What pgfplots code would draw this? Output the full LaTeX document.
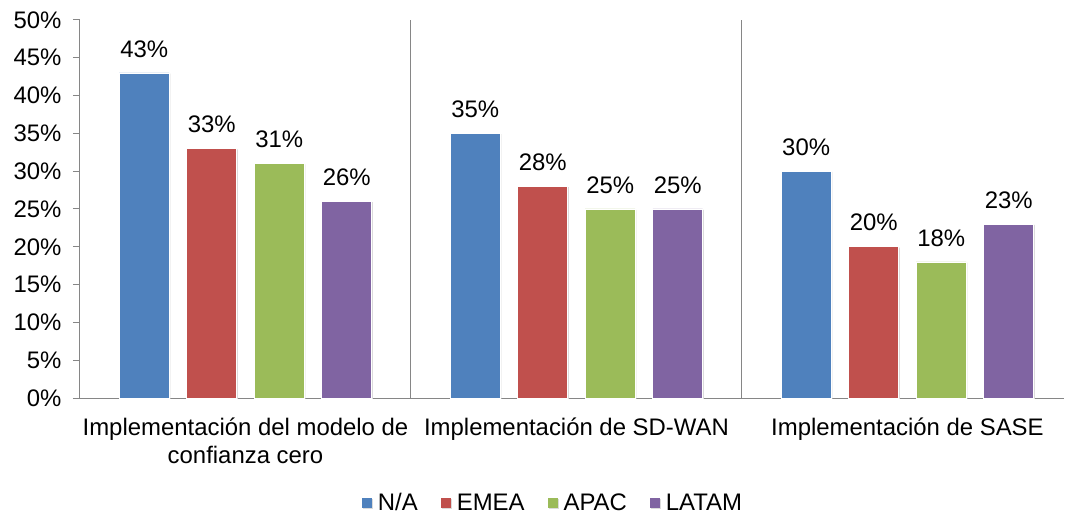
\documentclass[border=0pt]{standalone}
\usepackage{pgfplots}
\pgfplotsset{compat=1.18}
\usepackage{fontspec}
\setmainfont{Liberation Sans}
\definecolor{cA}{RGB}{79,129,189}
\definecolor{cB}{RGB}{192,80,77}
\definecolor{cC}{RGB}{155,187,89}
\definecolor{cD}{RGB}{128,100,162}
\definecolor{axgray}{RGB}{134,134,134}
\newcommand{\f}{\fontsize{24}{28}\selectfont}
\pgfplotsset{
  sq legend/.style={legend image code/.code={\fill[##1,draw=none] (0bp,-5bp) rectangle (10bp,5bp);}},
  barstyle/.style={draw=white, line width=0.6bp,
    preaction={fill=black!14, draw=none, transform canvas={xshift=1.2bp,yshift=-0.8bp}},
    sq legend},
}
\begin{document}
\begin{tikzpicture}
\begin{axis}[
  width=984bp, height=378bp, scale only axis,
  ybar, bar width=0.151,
  xmin=-0.5, xmax=2.473, ymin=0, ymax=50,
  axis x line=bottom, axis y line=left,
  axis line style={draw=axgray, line width=1bp, -},
  tick align=outside,
  major tick length=7bp,
  tick style={draw=axgray, line width=1bp},
  xtick={0,1,2},
  xticklabels={{Implementación del modelo de\\confianza cero},{Implementación de SD-WAN},{Implementación de SASE}},
  x tick style={draw=none},
  xticklabel style={font=\f, align=center, yshift=-9bp},
  extra x ticks={-0.5,0.5,1.5},
  extra x tick labels={},
  extra x tick style={grid=major, major grid style={draw=axgray, line width=1bp}, tick style={draw=axgray, line width=1bp}, major tick length=9bp},
  ytick={0,5,...,50},
  yticklabels={0\%,5\%,10\%,15\%,20\%,25\%,30\%,35\%,40\%,45\%,50\%},
  yticklabel style={font=\f, xshift=-8bp},
  /pgf/number format/assume math mode=true,
  nodes near coords={\pgfmathprintnumber{\pgfplotspointmeta}\%},
  every node near coord/.append style={font=\f, text=black, anchor=south, yshift=12bp},
  legend columns=4,
  legend style={at={(0.4807,-0.2778)}, anchor=center, draw=none, fill=none, font=\f,
    inner sep=0pt,
    /tikz/every odd column/.append style={column sep=4bp},
    /tikz/every even column/.append style={column sep=21bp}},
  clip=false,
]
\addplot[barstyle, fill=cA, bar shift=-0.306] coordinates {(0,43) (1,35) (2,30)};
\addlegendentry{N/A}
\addplot[barstyle, fill=cB, bar shift=-0.102] coordinates {(0,33) (1,28) (2,20)};
\addlegendentry{EMEA}
\addplot[barstyle, fill=cC, bar shift=0.102] coordinates {(0,31) (1,25) (2,18)};
\addlegendentry{APAC}
\addplot[barstyle, fill=cD, bar shift=0.306] coordinates {(0,26) (1,25) (2,23)};
\addlegendentry{LATAM}
\coordinate (sw) at (rel axis cs:0,0);
\coordinate (ne) at (rel axis cs:1,1);
\end{axis}
\pgfresetboundingbox
\path[use as bounding box] ([xshift=-80bp,yshift=-123bp]sw) rectangle ([xshift=1bp,yshift=20bp]ne);
\end{tikzpicture}
\end{document}
